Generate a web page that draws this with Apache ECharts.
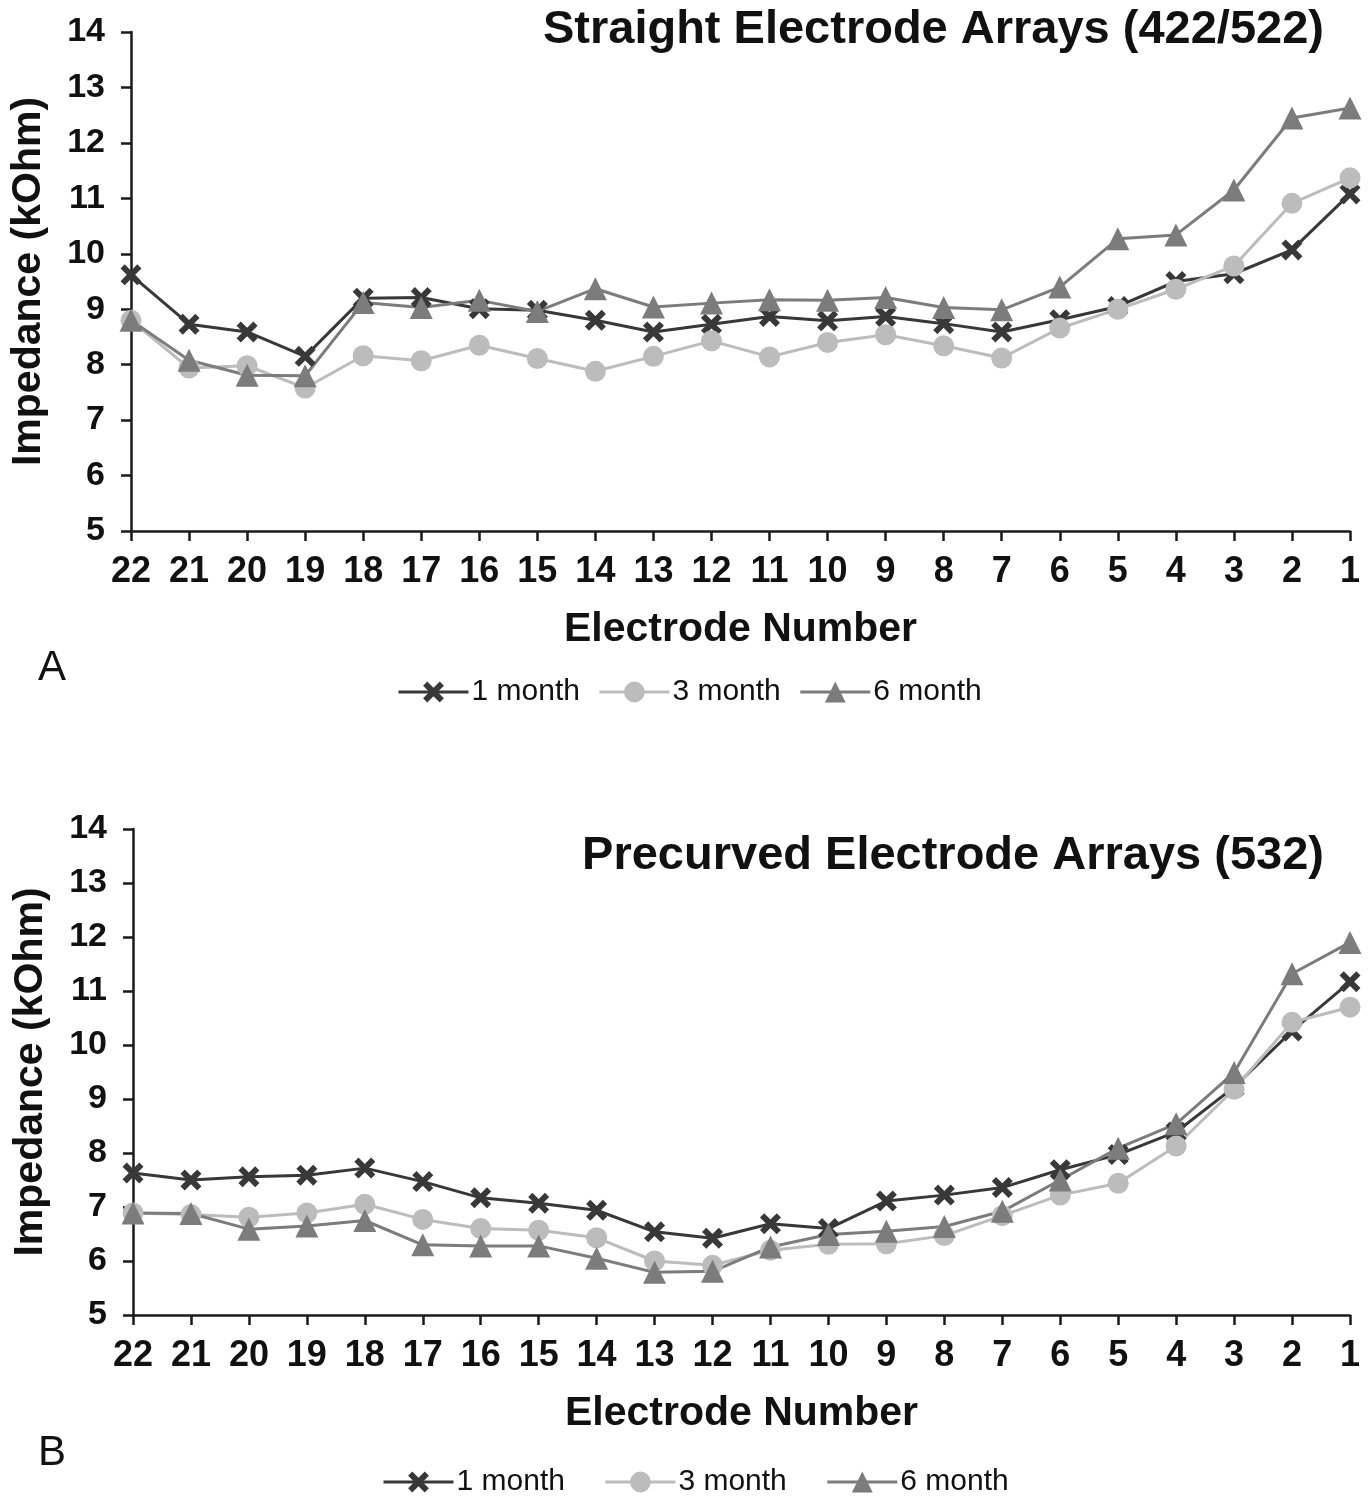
<!DOCTYPE html>
<html>
<head>
<meta charset="utf-8">
<script src="https://cdn.jsdelivr.net/npm/echarts@6/dist/echarts.min.js"></script>
<style>
html,body{margin:0;padding:0;background:#fff;}
#chart{width:1370px;height:1500px;}
</style>
</head>
<body>
<div id="chart"></div>
<script>
const electrodes = ['22','21','20','19','18','17','16','15','14','13','12','11','10','9','8','7','6','5','4','3','2','1'];
const seriesNames = ['1 month','3 month','6 month'];

// Panel A: Straight Electrode Arrays (422/522)
const straight1m = [9.62,8.73,8.59,8.15,9.20,9.21,9.01,8.98,8.80,8.59,8.73,8.87,8.79,8.87,8.74,8.59,8.81,9.05,9.50,9.64,10.07,11.08];
const straight3m = [8.80,7.94,7.98,7.58,8.16,8.07,8.35,8.11,7.88,8.15,8.43,8.14,8.40,8.54,8.34,8.12,8.66,9.00,9.36,9.78,10.91,11.37];
const straight6m = [8.80,8.08,7.81,7.80,9.12,9.03,9.16,8.96,9.37,9.04,9.11,9.17,9.16,9.21,9.03,8.99,9.40,10.27,10.34,11.15,12.45,12.63];

// Panel B: Precurved Electrode Arrays (532)
const precurved1m = [7.63,7.50,7.56,7.59,7.72,7.47,7.17,7.07,6.94,6.54,6.42,6.69,6.60,7.11,7.22,7.36,7.69,7.97,8.39,9.22,10.26,11.17];
const precurved3m = [6.89,6.86,6.81,6.89,7.05,6.77,6.60,6.57,6.43,6.00,5.92,6.20,6.31,6.32,6.47,6.84,7.22,7.44,8.13,9.18,10.42,10.70];
const precurved6m = [6.89,6.88,6.59,6.65,6.75,6.30,6.28,6.28,6.05,5.79,5.81,6.26,6.49,6.55,6.64,6.92,7.50,8.09,8.54,9.49,11.32,11.90];

const yTicks = {min:5, max:14, interval:1};

const FONT = '"Liberation Sans", Arial, sans-serif';
const colX = '#383838', colC = '#bcbcbc', colT = '#7c7c7c';
const crossPath = 'path://M2,0 L5,3 L8,0 L10,2 L7,5 L10,8 L8,10 L5,7 L2,10 L0,8 L3,5 L0,2 Z';

function mkSeries(name, data, idx, color, symbol, size){
  return {
    name: name, type:'line', xAxisIndex: idx, yAxisIndex: idx, data: data,
    symbol: symbol, symbolSize: size, showSymbol: true,
    lineStyle:{color: color, width: 3},
    itemStyle:{color: color},
    emphasis:{disabled:true},
    animation:false, z: 2
  };
}

function xAxisCfg(idx){
  return {
    type:'category', gridIndex: idx, data: electrodes, boundaryGap:false,
    axisLine:{show:true, onZero:false, lineStyle:{color:'#1a1a1a', width:2.5}},
    axisTick:{show:true, alignWithLabel:true, length:10, lineStyle:{color:'#1a1a1a', width:2.5}},
    axisLabel:{color:'#111', fontFamily:FONT, fontWeight:'bold', fontSize:36, margin:23},
    splitLine:{show:false},
    name:'Electrode Number', nameLocation:'middle', nameGap:78,
    nameTextStyle:{color:'#111', fontFamily:FONT, fontWeight:'bold', fontSize:41, verticalAlign:'top'}
  };
}
function yAxisCfg(idx){
  return {
    type:'value', gridIndex: idx, min:yTicks.min, max:yTicks.max, interval:yTicks.interval,
    axisLine:{show:true, lineStyle:{color:'#1a1a1a', width:2.5}},
    axisTick:{show:true, length:10, lineStyle:{color:'#1a1a1a', width:2.5}},
    axisLabel:{color:'#111', fontFamily:FONT, fontWeight:'bold', fontSize:34, margin:26},
    splitLine:{show:false},
    name:'Impedance (kOhm)', nameLocation:'middle', nameGap:82,
    nameTextStyle:{color:'#111', fontFamily:FONT, fontWeight:'bold', fontSize:41}
  };
}

const legendBase = {
  data: seriesNames, itemWidth:70, itemHeight:26, itemGap:18,
  lineStyle:{width:3},
  textStyle:{color:'#111', fontFamily:FONT, fontSize:30, padding:[0,0,0,-2]},
  selectedMode:false
};

const chart = echarts.init(document.getElementById('chart'), null, {renderer:'canvas'});
chart.setOption({
  backgroundColor:'#fff',
  animation:false,
  title:[
    {text:'Straight Electrode Arrays (422/522)', right:41, top:2,
     textStyle:{fontFamily:FONT, fontWeight:'bold', fontSize:47, color:'#111'}},
    {text:'Precurved Electrode Arrays (532)', right:41, top:828,
     textStyle:{fontFamily:FONT, fontWeight:'bold', fontSize:47, color:'#111'}},
    {text:'A', left:33, top:642, textStyle:{fontFamily:FONT, fontWeight:'normal', fontSize:42, color:'#111'}},
    {text:'B', left:33, top:1427, textStyle:{fontFamily:FONT, fontWeight:'normal', fontSize:42, color:'#111'}}
  ],
  legend:[
    Object.assign({}, legendBase, {left:392, top:672}),
    Object.assign({}, legendBase, {left:377, top:1462, itemGap:39})
  ],
  grid:[
    {left:127, right:20, top:32, height:499},
    {left:133, right:20, top:829, height:486}
  ],
  xAxis:[xAxisCfg(0), xAxisCfg(1)],
  yAxis:[yAxisCfg(0), yAxisCfg(1)],
  series:[
    mkSeries(seriesNames[0], straight1m, 0, colX, crossPath, 21),
    mkSeries(seriesNames[1], straight3m, 0, colC, 'circle', 21),
    mkSeries(seriesNames[2], straight6m, 0, colT, 'triangle', 23),
    mkSeries(seriesNames[0], precurved1m, 1, colX, crossPath, 21),
    mkSeries(seriesNames[1], precurved3m, 1, colC, 'circle', 21),
    mkSeries(seriesNames[2], precurved6m, 1, colT, 'triangle', 23)
  ]
});
</script>
</body>
</html>
